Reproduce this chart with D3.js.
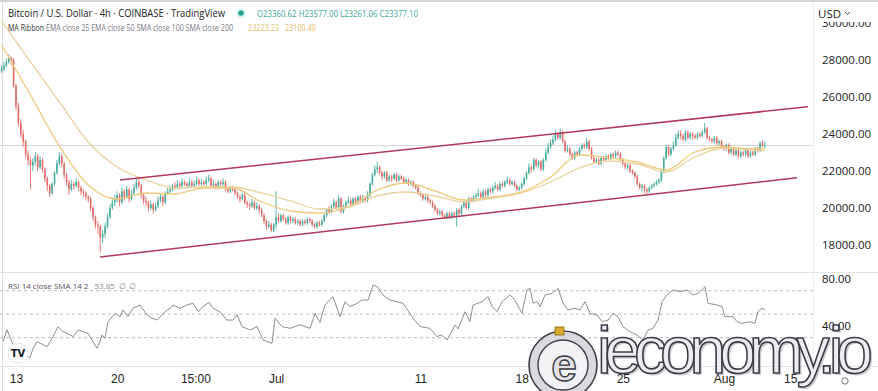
<!DOCTYPE html>
<html><head><meta charset="utf-8">
<script src="https://cdn.jsdelivr.net/npm/d3@7"></script>
<style>
html,body{margin:0;padding:0;background:#fff;overflow:hidden;}
svg{display:block;font-family:"Open Sans",sans-serif;}
</style></head><body>
<svg id="chart" width="878" height="391"></svg>
<script>
// ---- DATA (prices in hundreds of USD, 4h candles starting Jun 12) ----
const firstOpenH = 274;
const closeH = [275,277,279,281,280,266,
255,246,240,236,229,226,
223,225,228,222,226,221,
216,212,208,213,219,224,
228,224,218,214,210,213,
212,214,211,209,208,206,
205,200,195,191,190,184,
186,190,195,200,203,205,
207,203,209,206,210,205,
208,211,214,212,207,204,
203,200,202,199,201,204,
206,203,208,209,210,212,
211,213,212,214,213,212,
214,212,213,215,213,214,
213,215,216,212,213,211,
214,213,214,210,209,211,
210,208,206,205,207,203,
202,201,203,200,201,199,
196,193,190,191,188,191,
195,193,196,194,192,195,
193,194,192,193,191,193,
192,194,193,191,190,192,
191,193,196,199,198,201,
203,200,205,198,201,203,
204,202,205,203,206,204,
205,204,207,213,218,221,
222,219,217,219,215,217,
216,218,215,217,216,214,
215,213,214,212,211,208,
207,205,206,204,203,201,
199,197,198,196,195,197,
195,197,196,199,197,201,
203,200,205,204,206,207,
208,206,209,207,210,209,
211,212,210,213,212,214,
215,213,214,212,210,211,
213,216,219,222,221,226,
223,225,221,226,230,233,
235,237,240,238,241,236,
231,232,229,227,230,229,
232,234,233,236,232,227,
225,226,224,227,226,228,
227,229,228,230,229,226,
224,222,223,220,219,217,
213,211,212,210,209,211,
212,213,214,215,220,227,
233,229,232,234,238,240,
239,237,241,238,240,239,
238,240,239,241,243,238,
237,236,238,235,236,233,
232,234,230,232,229,231,
228,230,229,231,228,230,
229,232,231,235,233.6062,233.771];
const highH = [277,279,281,283,282,281,
267,257,248,242,237,231,
228,227,230,229,228,227,
222,217,213,214,220,226,
230,229,225,219,215,215,
214,216,215,212,210,209,
207,206,201,196,193,191,
188,192,197,202,205,207,
209,208,211,210,212,211,
210,213,216,217,213,208,
206,204,204,203,203,206,
208,207,209,211,212,213,
214,215,214,216,215,214,
216,215,215,217,216,216,
215,217,218,217,215,214,
215,215,216,215,211,212,
212,211,209,207,208,208,
204,203,205,204,203,202,
200,197,194,193,192,192,
209,197,197,197,195,196,
196,195,195,194,194,194,
194,195,195,194,192,193,
193,194,197,200,201,202,
205,204,207,206,202,204,
206,205,206,206,207,207,
207,206,209,214,219,223,
225,223,220,220,220,218,
218,219,219,218,218,217,
216,216,215,215,213,212,
209,208,207,207,205,204,
202,200,199,199,197,198,
198,198,198,200,200,202,
204,204,206,206,207,208,
210,209,210,210,211,211,
212,214,213,214,214,215,
217,216,215,215,213,212,
214,217,220,224,223,227,
227,226,226,227,232,235,
237,239,242,241,243,242,
237,234,233,230,231,231,
233,235,235,238,237,233,
228,227,227,228,228,229,
229,230,230,231,231,230,
227,225,224,224,221,220,
218,214,213,213,211,212,
213,214,215,216,221,228,
234,234,233,236,240,242,
242,240,242,242,241,241,
240,241,241,242,246,244,
239,238,239,239,237,237,
234,235,235,233,233,232,
232,231,231,232,232,231,
231,233,233,236,236.7,235.77];
const lowH = [273,274,276,278,277,265,
253,244,238,233,227,223,
210,220,223,220,221,219,
214,209,206,207,212,218,
223,222,216,212,207,209,
210,211,209,207,206,204,
203,198,193,189,186,176,
181,184,189,194,199,201,
203,201,202,204,205,203,
204,207,210,211,205,202,
201,198,199,197,198,200,
203,201,202,207,208,209,
210,210,210,211,212,211,
211,211,211,212,212,212,
212,212,214,211,211,210,
210,212,212,209,208,208,
209,207,205,203,204,202,
200,199,200,199,199,197,
195,191,188,189,187,187,
189,192,192,193,191,191,
192,192,191,191,190,190,
191,191,192,190,189,189,
190,190,192,195,197,197,
200,199,199,197,197,200,
202,201,201,202,202,203,
203,203,203,206,212,217,
219,218,215,216,214,214,
214,215,214,214,215,213,
213,212,212,211,210,207,
206,204,204,203,202,200,
198,196,196,195,194,194,
194,194,195,190,196,196,
200,199,199,203,203,205,
206,205,205,206,206,208,
208,210,209,209,211,211,
213,212,212,211,209,209,
210,212,215,218,219,220,
222,222,220,220,225,229,
232,234,236,237,237,235,
230,230,228,226,226,228,
228,231,232,232,231,226,
224,224,223,223,225,225,
226,226,227,227,228,225,
223,221,221,219,218,216,
212,210,209,208,207,208,
210,211,212,213,214,219,
226,228,228,231,233,237,
237,236,236,237,237,237,
237,237,238,238,240,237,
236,235,235,234,234,232,
231,231,229,229,228,228,
227,227,228,228,227,227,
228,228,230,230,233,232.6106];

// MA ribbon samples (candle index, USD)
const maIdx = [0,12,24,36,48,60,72,84,96,108,120,132,144,156,168,180,192,204,216,228,240,252,264,276,288,300,312,317];
const emaFast = [28811,26108,23351,21243,20486,20811,20757,21081,21081,20324,19838,19730,20054,20973,21351,20919,20432,20595,20865,21676,22865,22703,22486,22054,23027,23297,23189,23223.23];
const emaSlow = [30108,27892,25730,23568,22216,21514,21081,21135,21135,20811,20378,19946,20054,20649,20865,20649,20324,20541,20811,21405,22162,22541,22378,21946,22757,23243,23135,23100.49];

// RSI 14 samples (candle index, value)
const rsiIdx = [0.6,2.3,4.3,5.6,7.7,9.7,11.8,13.1,14.7,16.8,18.9,21.4,23.4,25.5,27.6,29.7,31.8,33.8,35.9,37.6,39.6,40.9,41.7,43,44.2,47.1,49.2,50.4,52.5,54.6,57.5,60.4,62.5,64.6,67.9,70,71.2,74.1,77,79.5,81.6,83.7,86.2,87.8,90.7,93.6,96.1,97.8,99.9,103.2,106.1,108.6,112.3,113.6,116.5,119.8,123.9,128.1,130.2,132.2,134.3,137.6,140.6,142.6,144.7,147.6,149.7,152.2,154.3,156.3,158.4,161.3,164.2,166.7,170.9,173.8,177.9,180.8,182.5,185,188.3,189.6,192.5,194.5,195.8,199.5,202,203.7,205.8,207.8,211.1,213.2,216.1,218.2,219.5,220.7,222.4,223.6,225.7,228.6,231.1,233.2,235.2,238.1,240.2,242.3,244.4,247.3,249.4,251.9,253.9,256,258.1,261,263.9,266.4,268.5,270.5,272.6,274.3,276.3,278.8,281.8,284.6,287.1,289.2,292.1,293.4,297.1,299.2,300.4,303.8,305.4,307.5,310.8,312.9,314.1,315.8,317];
const rsiVal = [26.6,36.6,26.6,19.5,13.8,15.5,12.7,21,26.6,24.5,22.3,30.9,39.4,35,33.5,30.9,36.6,35,33.7,28,21,27,32.3,29.5,43.6,50.7,47.9,53.6,47.9,55,57.8,49.3,46.5,45,52.1,55,57.8,55,57.8,59.3,52.1,56.4,60.1,55,52,45,45,49.3,39.4,36.6,39.4,28,25.2,46.5,39.4,38,41,38,50.7,43,57.8,64.9,47.9,60.6,56.4,59.3,62,62,74.9,73,66.3,62,60.6,59.3,46.5,39.4,38,30.9,32.3,28,40.8,37.5,52.1,43.6,57.8,60.6,64.9,56.4,52.1,60.6,66.3,62,50.7,70.6,72,59.3,60.6,56.4,66.3,67.7,72,59.3,53.6,55,53.6,60.6,50.7,49.3,43.6,45,50.7,47.9,39.4,35,32.3,28,36.6,38,45,60.6,66.3,70.6,69.2,70.6,66.3,67.7,73.4,59.3,57.8,56.4,47.9,47.9,43.6,42.2,43.6,42.2,52.1,55,53.85];
const rsiBands = [70, 50, 30];
const rsiTicks = [80, 40];

// channel trend lines (candle index, USD)
const upperIdx = [49.2, 334.9], upperPrice = [21514, 25476];
const lowerIdx = [40.9, 330.3], lowerPrice = [17351, 21632];

const priceTicks = [18000, 20000, 22000, 24000, 26000, 28000, 30000];
const lastPrice = 23377.10;
const timeTickIdx = [6, 48, 80.5, 114, 174, 216, 258, 300, 327.5];
const timeTickLabels = ["13", "20", "15:00", "Jul", "11", "18", "25", "Aug", "15"];

// ---- BUILD ----
const candles = closeH.map((c, i) => ({
  i, o: (i === 0 ? firstOpenH : closeH[i-1]) * 100, c: c * 100, h: highH[i] * 100, l: lowH[i] * 100
}));

const svg = d3.select("#chart");
const W = 878, H = 391;
const plotRight = 813, paneSplit = 272, rsiBottom = 366;

const x = d3.scaleLinear().domain([0, 317]).range([1.55, 764.9]);
const y = d3.scaleLinear().domain([16540, 31243]).range([paneSplit, 0]);
const yr = d3.scaleLinear().domain([5.9, 85.9]).range([rsiBottom, paneSplit]);

svg.append("rect").attr("width", W).attr("height", H).attr("fill", "#fff");

const defs = svg.append("defs");
defs.append("clipPath").attr("id", "pclip").append("rect").attr("x", 0).attr("y", 0).attr("width", plotRight).attr("height", paneSplit);
defs.append("clipPath").attr("id", "rclip").append("rect").attr("x", 0).attr("y", paneSplit).attr("width", plotRight).attr("height", rsiBottom - paneSplit);

// frame lines
svg.append("rect").attr("x", 0).attr("y", 0).attr("width", W).attr("height", 2).attr("fill", "#d4d4d6");
svg.append("line").attr("x1", 2.5).attr("x2", 2.5).attr("y1", 2).attr("y2", H).attr("stroke", "#dcdcdc");
svg.append("line").attr("x1", 0).attr("x2", W).attr("y1", paneSplit + 0.5).attr("y2", paneSplit + 0.5).attr("stroke", "#e2e3e8");
svg.append("line").attr("x1", 0).attr("x2", W).attr("y1", rsiBottom + 0.5).attr("y2", rsiBottom + 0.5).attr("stroke", "#e2e3e8");
svg.append("line").attr("x1", plotRight + 0.5).attr("x2", plotRight + 0.5).attr("y1", 2).attr("y2", rsiBottom).attr("stroke", "#eceef2");

// price pane
const pp = svg.append("g").attr("clip-path", "url(#pclip)");
pp.append("line").attr("x1", 0).attr("x2", plotRight).attr("y1", y(lastPrice)).attr("y2", y(lastPrice))
  .attr("stroke", "#dadada").attr("stroke-width", 1);

const upCol = "#47ad9f", dnCol = "#e46c69";
pp.append("g").selectAll("line").data(candles).join("line")
  .attr("x1", d => x(d.i)).attr("x2", d => x(d.i))
  .attr("y1", d => y(d.h)).attr("y2", d => y(d.l))
  .attr("stroke", d => d.c >= d.o ? upCol : dnCol).attr("stroke-width", 0.9);
pp.append("g").selectAll("rect").data(candles).join("rect")
  .attr("x", d => x(d.i) - 0.8).attr("width", 1.6)
  .attr("y", d => y(Math.max(d.o, d.c)))
  .attr("height", d => Math.max(1, Math.abs(y(d.o) - y(d.c))))
  .attr("fill", d => d.c >= d.o ? upCol : dnCol);

const maLine = d3.line().x(d => x(d[0])).y(d => y(d[1])).curve(d3.curveMonotoneX);
pp.append("path").datum(maIdx.map((t, k) => [t, emaSlow[k]])).attr("d", maLine)
  .attr("fill", "none").attr("stroke", "#ead29e").attr("stroke-width", 1.3);
pp.append("path").datum(maIdx.map((t, k) => [t, emaFast[k]])).attr("d", maLine)
  .attr("fill", "none").attr("stroke", "#efc97c").attr("stroke-width", 1.3);

const chan = d3.line().x(d => x(d[0])).y(d => y(d[1]));
pp.append("path").datum(upperIdx.map((t, k) => [t, upperPrice[k]])).attr("d", chan)
  .attr("stroke", "#b23a5c").attr("stroke-width", 1.5).attr("fill", "none");
pp.append("path").datum(lowerIdx.map((t, k) => [t, lowerPrice[k]])).attr("d", chan)
  .attr("stroke", "#b23a5c").attr("stroke-width", 1.5).attr("fill", "none");

// price axis
const pAxis = svg.append("g").attr("transform", `translate(${plotRight + 6},0)`)
  .call(d3.axisRight(y).tickValues(priceTicks).tickFormat(d3.format(".2f")).tickSize(0).tickPadding(3));
pAxis.select(".domain").remove();
pAxis.selectAll("text").attr("font-size", 11.5).attr("fill", "#222").attr("font-family", "Open Sans, sans-serif");
svg.append("rect").attr("x", plotRight + 1).attr("y", 2).attr("width", W - plotRight - 1).attr("height", 20).attr("fill", "#fff");
svg.append("text").attr("x", 818).attr("y", 18).attr("font-size", 11.5).attr("fill", "#222").text("USD");
svg.append("path").attr("d", "M845,12 l2.5,2.5 l2.5,-2.5").attr("fill", "none").attr("stroke", "#444").attr("stroke-width", 1);

// RSI pane
const rp = svg.append("g").attr("clip-path", "url(#rclip)");
rp.selectAll("line.band").data(rsiBands).join("line").attr("class", "band")
  .attr("x1", 0).attr("x2", plotRight).attr("y1", d => yr(d)).attr("y2", d => yr(d))
  .attr("stroke", "#b9b9b9").attr("stroke-width", 1).attr("stroke-dasharray", "3,3");
rp.append("path").datum(rsiIdx.map((t, k) => [t, rsiVal[k]]))
  .attr("d", d3.line().x(d => x(d[0])).y(d => yr(d[1])))
  .attr("fill", "none").attr("stroke", "#8e8e8e").attr("stroke-width", 1);

const rAxis = svg.append("g").attr("transform", `translate(${plotRight + 6},0)`)
  .call(d3.axisRight(yr).tickValues(rsiTicks).tickFormat(d3.format(".2f")).tickSize(0).tickPadding(3));
rAxis.select(".domain").remove();
rAxis.selectAll("text").attr("font-size", 11.5).attr("fill", "#222");

// legends
svg.append("text").attr("x", 8).attr("y", 17).attr("font-size", 10.5).attr("fill", "#222")
  .attr("textLength", 217).attr("lengthAdjust", "spacingAndGlyphs")
  .text("Bitcoin / U.S. Dollar · 4h · COINBASE · TradingView");
svg.append("circle").attr("cx", 241).attr("cy", 13).attr("r", 4.5).attr("fill", "#cdeee9");
svg.append("circle").attr("cx", 241).attr("cy", 13).attr("r", 2.6).attr("fill", "#22a08f");
svg.append("text").attr("x", 257).attr("y", 17).attr("font-size", 9).attr("fill", "#3aa99c")
  .attr("textLength", 161).attr("lengthAdjust", "spacingAndGlyphs")
  .text("O23360.62 H23577.00 L23261.06 C23377.10");
const l2 = svg.append("text").attr("x", 8).attr("y", 31).attr("font-size", 8.2).attr("fill", "#7a7a82")
  .attr("textLength", 225).attr("lengthAdjust", "spacingAndGlyphs");
l2.append("tspan").attr("fill", "#333").text("MA Ribbon ");
l2.append("tspan").text("EMA close 25 EMA close 50 SMA close 100 SMA close 200");
svg.append("text").attr("x", 248).attr("y", 31).attr("font-size", 8.2).attr("fill", "#e9c06a")
  .attr("textLength", 31).attr("lengthAdjust", "spacingAndGlyphs").text(d3.format(".2f")(emaFast[emaFast.length - 1]));
svg.append("text").attr("x", 285).attr("y", 31).attr("font-size", 8.2).attr("fill", "#e6b866")
  .attr("textLength", 31).attr("lengthAdjust", "spacingAndGlyphs").text(d3.format(".2f")(emaSlow[emaSlow.length - 1]));

const l3 = svg.append("text").attr("x", 8).attr("y", 289).attr("font-size", 8).attr("fill", "#555");
l3.append("tspan").text("RSI 14 close SMA 14 2");
l3.append("tspan").attr("dx", 6).attr("fill", "#8a8a8a").text(d3.format(".2f")(rsiVal[rsiVal.length - 1]));
l3.append("tspan").attr("dx", 4).attr("fill", "#8a8a8a").text("∅");
l3.append("tspan").attr("dx", 3).attr("fill", "#8a8a8a").text("∅");

// TV badge
svg.append("circle").attr("cx", 18).attr("cy", 353).attr("r", 10).attr("fill", "#fff").attr("stroke", "#e6e6e6");
svg.append("text").attr("x", 18).attr("y", 357).attr("text-anchor", "middle").attr("font-size", 10)
  .attr("font-weight", "bold").attr("fill", "#131722").attr("font-family", "DejaVu Sans").text("TV");

// watermark
const wm = svg.append("g");
wm.append("circle").attr("cx", 563).attr("cy", 365).attr("r", 34).attr("fill", "#d9d9e0").attr("stroke", "#3f3f48").attr("stroke-width", 1.6);
wm.append("circle").attr("cx", 563).attr("cy", 365).attr("r", 25).attr("fill", "#f3f3f6").attr("stroke", "#3f3f48").attr("stroke-width", 1.4);
wm.append("text").attr("x", 564).attr("y", 381).attr("text-anchor", "middle").attr("font-size", 46)
  .attr("font-family", "Liberation Sans").attr("font-weight", "bold")
  .attr("fill", "#e2e2e8").attr("stroke", "#3a3a44").attr("stroke-width", 1.4).text("e");
wm.append("rect").attr("x", 555).attr("y", 327).attr("width", 9).attr("height", 8).attr("fill", "#d9aa2c").attr("stroke", "#8a6a10").attr("stroke-width", 0.8);
wm.append("text").attr("x", 599).attr("y", 375).attr("font-size", 66).attr("font-family", "Liberation Sans")
  .attr("textLength", 276).attr("lengthAdjust", "spacing")
  .attr("fill", "#9a9aa2").attr("opacity", 0.5).text("ieconomy.io");
wm.append("text").attr("x", 597).attr("y", 373).attr("font-size", 66).attr("font-family", "Liberation Sans")
  .attr("textLength", 276).attr("lengthAdjust", "spacing")
  .attr("fill", "#ececf1").attr("stroke", "#3c3c46").attr("stroke-width", 1.6).text("ieconomy.io");

// time axis (drawn over the watermark, as in the reference)
const tAxis = svg.append("g").attr("transform", `translate(0,${rsiBottom})`)
  .call(d3.axisBottom(x).tickValues(timeTickIdx).tickFormat((d, k) => timeTickLabels[k]).tickSize(0).tickPadding(8));
tAxis.select(".domain").remove();
tAxis.selectAll("text").attr("font-size", 12).attr("fill", "#222");

// gear
svg.append("circle").attr("cx", 845).attr("cy", 381).attr("r", 3.2).attr("fill", "none").attr("stroke", "#777").attr("stroke-width", 1);
</script>
</body></html>
